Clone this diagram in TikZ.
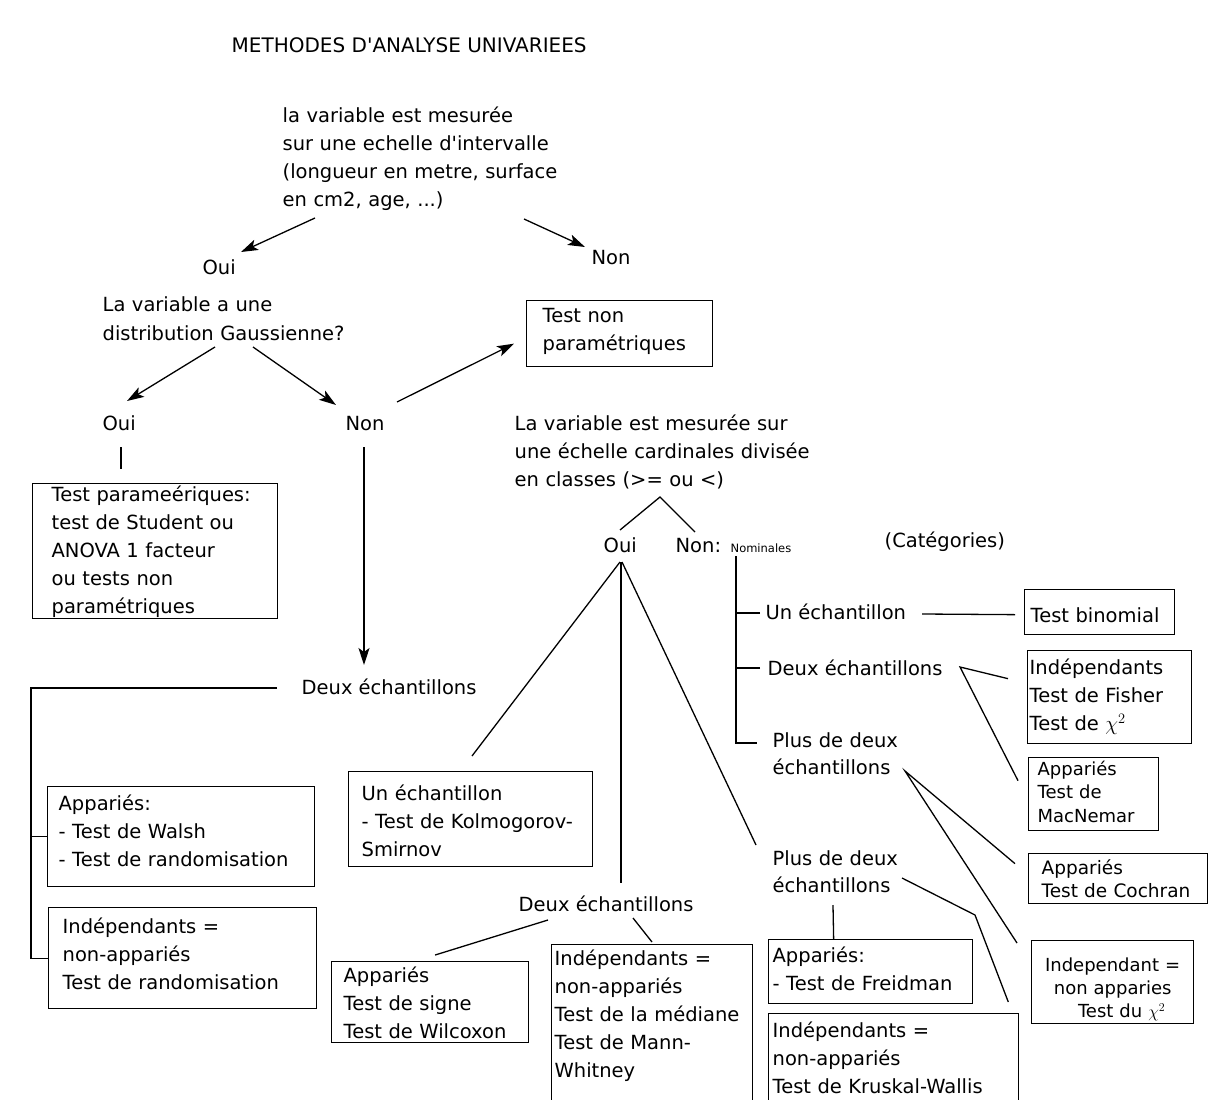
\documentclass[tikz,border=0pt]{standalone}
\usepackage{fontspec}
\newfontfamily\dv{DejaVu Sans}
\usetikzlibrary{arrows.meta}
\newcommand\fa{\dv\fontsize{19.5}{28}\selectfont}
\newcommand\fb{\dv\fontsize{18}{23.5}\selectfont}
\newcommand\fc{\dv\fontsize{11.5}{14}\selectfont}
\newcommand\lnx[1]{\mbox{#1}}
\begin{document}
\begin{tikzpicture}[x=1pt,y=-1pt,line width=1.3pt,
  txt/.style={inner sep=0pt,anchor=base west,align=left,text width=400pt,font=\fa},
  lone/.style={inner sep=0pt,anchor=base west,font=\fa},
  bx/.style={draw,anchor=north west,align=left,inner ysep=0pt,font=\fa},
  arr/.style={-{Stealth[length=17pt,width=11pt,inset=4pt]}}]
\fill[white] (0,0) rectangle (1216,1100);
\useasboundingbox (0,0) rectangle (1216,1100);

% ---------- texts ----------
\node[lone,font=\dv\fontsize{20}{24}\selectfont] (title) at (231,52) {METHODES D'ANALYSE UNIVARIEES};
\node[txt] (q1) at (282,122) {la variable est mesurée\\sur une echelle d'intervalle\\(longueur en metre, surface\\en cm2, age, ...)};
\node[lone] (oui1) at (202,274) {Oui};
\node[lone] (non1) at (591,264) {Non};
\node[txt,font=\dv\fontsize{19.5}{29}\selectfont] (q2) at (102,311) {La variable a une\\distribution Gaussienne?};
\node[lone] (oui2) at (102,430) {Oui};
\node[lone] (non2) at (345,430) {Non};
\node[txt] (q3) at (514,430) {La variable est mesurée sur\\une échelle cardinales divisée\\en classes (>= ou <)};
\node[lone] (oui3) at (603,552) {Oui};
\node[lone] (non3) at (675,552) {Non:};
\node[lone,font=\fc] (nom) at (730,552) {Nominales};
\node[lone] (cat) at (884,547) {(Catégories)};
\node[lone] (deux1) at (301,694) {Deux échantillons};
\node[lone] (deux2) at (518,911) {Deux échantillons};
\node[txt,font=\dv\fontsize{19.5}{27}\selectfont] (plus1) at (772,865) {Plus de deux\\échantillons};
\node[lone] (un3) at (765,619) {Un échantillon};
\node[lone] (deux3) at (767,675) {Deux échantillons};
\node[txt,font=\dv\fontsize{19.5}{27}\selectfont] (plus3) at (772,747) {Plus de deux\\échantillons};

% ---------- boxes ----------
\node[bx,inner xsep=16pt,text width=154pt,text height=22pt,text depth=44pt] (tnp) at (526,300)
  {\lnx{Test non}\\\lnx{paramétriques}};
\node[bx,inner xsep=19pt,text width=207pt,text height=18pt,text depth=117pt] (par) at (32,483)
  {\lnx{Test parameériques:}\\\lnx{test de Student ou}\\\lnx{ANOVA 1 facteur}\\\lnx{ou tests non}\\\lnx{paramétriques}};
\node[bx,inner xsep=11pt,text width=245pt,text height=24pt,text depth=76pt] (walsh) at (47,786)
  {\lnx{Appariés:}\\\lnx{- Test de Walsh}\\\lnx{- Test de randomisation}};
\node[bx,inner xsep=14pt,text width=240pt,text height=26pt,text depth=75pt] (indr) at (48,907)
  {\lnx{Indépendants =}\\\lnx{non-appariés}\\\lnx{Test de randomisation}};
\node[bx,inner xsep=13pt,text width=218pt,text height=29pt,text depth=66pt] (ks) at (348,771)
  {\lnx{Un échantillon}\\\lnx{- Test de Kolmogorov-}\\\lnx{Smirnov}};
\node[bx,inner xsep=12pt,text width=173pt,text height=21pt,text depth=60pt] (sig) at (331,961)
  {\lnx{Appariés}\\\lnx{Test de signe}\\\lnx{Test de Wilcoxon}};
\node[bx,inner xsep=3pt,text width=195pt,text height=21pt,text depth=145pt] (med) at (551,944)
  {\lnx{Indépendants =}\\\lnx{non-appariés}\\\lnx{Test de la médiane}\\\lnx{Test de Mann-}\\\lnx{Whitney}};
\node[bx,inner xsep=4pt,text width=196pt,text height=23pt,text depth=41pt] (fr) at (768,939)
  {\lnx{Appariés:}\\\lnx{- Test de Freidman}};
\node[bx,inner xsep=4pt,text width=242pt,text height=24pt,text depth=97pt] (kw) at (768,1013)
  {\lnx{Indépendants =}\\\lnx{non-appariés}\\\lnx{Test de Kruskal-Wallis}};
\node[bx,inner xsep=6pt,text width=138pt,text height=33pt,text depth=12pt] (bin) at (1024,589)
  {\lnx{Test binomial}};
\node[bx,inner xsep=2pt,text width=160pt,text height=24pt,text depth=69pt] (fis) at (1027,650)
  {\lnx{Indépendants}\\\lnx{Test de Fisher}\\\lnx{Test de $\chi^2$}};
\node[bx,font=\fb,inner xsep=9pt,text width=112pt,text height=17.5pt,text depth=55.5pt] (mac) at (1028,757)
  {\lnx{Appariés}\\\lnx{Test de}\\\lnx{MacNemar}};
\node[bx,font=\dv\fontsize{18.5}{23}\selectfont,inner xsep=13pt,text width=153pt,text height=21pt,text depth=29pt] (coc) at (1028,853)
  {\lnx{Appariés}\\\lnx{Test de Cochran}};
\node[bx,font=\dv\fontsize{18}{23}\selectfont,align=center,inner xsep=6pt,text width=150pt,text height=31pt,text depth=52pt] (ind2) at (1031,940)
  {\lnx{Independant =}\\\lnx{non apparies}\\\lnx{\hspace*{18pt}Test du $\chi^2$}};

% ---------- connectors ----------
\draw[arr] ([xshift=33pt,yshift=-96pt]q1.base west) -- ([xshift=39pt,yshift=22pt]oui1.base west);
\draw[arr] ([xshift=242pt,yshift=-97pt]q1.base west) -- ([xshift=-6pt,yshift=17pt]non1.base west);
\draw[arr] ([xshift=113pt,yshift=-36pt]q2.base west) -- ([xshift=25pt,yshift=29pt]oui2.base west);
\draw[arr] ([xshift=151pt,yshift=-36pt]q2.base west) -- ([xshift=-9pt,yshift=25pt]non2.base west);
\draw[arr] ([xshift=52pt,yshift=28pt]non2.base west) -- ([xshift=-12pt,yshift=-10pt]tnp.west);
\draw ([xshift=19pt,yshift=-17pt]oui2.base west) -- ([xshift=89pt,yshift=14pt]par.north west);
\draw[arr] ([xshift=19pt,yshift=-17pt]non2.base west) -- ([xshift=63pt,yshift=29pt]deux1.base west);
\draw ([xshift=-24pt,yshift=6pt]deux1.base west) -- ++(-246,0) |- (indr.west);
\draw (walsh.west) -- ++(-16,0);

\draw ([xshift=17pt,yshift=22pt]oui3.base west) -- ([xshift=146pt,yshift=-67pt]q3.base west) -- ([xshift=20pt,yshift=20pt]non3.base west);
\draw ([xshift=17pt,yshift=-10pt]oui3.base west) -- ([xshift=124pt,yshift=15pt]ks.north west);
\draw ([xshift=18pt,yshift=-10pt]oui3.base west) -- ([xshift=103pt,yshift=28pt]deux2.base west);
\draw ([xshift=19pt,yshift=-10pt]oui3.base west) -- ([xshift=-16pt,yshift=20pt]plus1.base west);
\draw ([xshift=30pt,yshift=-9pt]deux2.base west) -- ([xshift=5pt,yshift=6pt]sig.north);
\draw ([xshift=115pt,yshift=-7pt]deux2.base west) -- ([xshift=101pt,yshift=2pt]med.north west);
\draw ([xshift=61pt,yshift=-40pt]plus1.base west) -- ([xshift=-37pt]fr.north);
\draw ([xshift=130pt,yshift=-13pt]plus1.base west) -- ++(73,37) -- ([xshift=-11pt,yshift=11pt]kw.north east);

\draw ([xshift=61pt,yshift=-4pt]non3.base west) |- ([xshift=-15pt,yshift=4pt]plus3.base west);
\draw ([xshift=-5pt,yshift=6pt]un3.base west) -- ++(-24,0);
\draw ([xshift=-7pt,yshift=7pt]deux3.base west) -- ++(-24,0);
\draw ([xshift=157pt,yshift=5pt]un3.base west) -- ([xshift=-9pt,yshift=-2.5pt]bin.west);
\draw ([xshift=-19pt,yshift=18.5pt]fis.west) -- ([xshift=193pt,yshift=8pt]deux3.base west) -- ([xshift=-10pt,yshift=13.5pt]mac.west);
\draw ([xshift=-13pt,yshift=15pt]coc.west) -- ([xshift=133pt,yshift=-24pt]plus3.base west) -- ([xshift=-14pt,yshift=-3pt]ind2.north west);
\end{tikzpicture}
\end{document}
